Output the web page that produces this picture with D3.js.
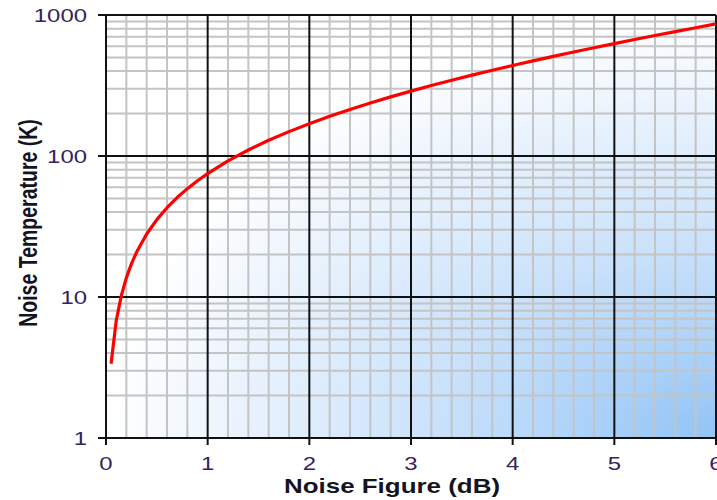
<!DOCTYPE html>
<html>
<head>
<meta charset="utf-8">
<script src="https://cdn.jsdelivr.net/npm/d3@7"></script>
<style>
  html, body { margin: 0; padding: 0; background: #ffffff; }
  svg { display: block; }
</style>
</head>
<body>
<svg id="chart" width="717" height="500"></svg>
<script>
// ---- data ----
const noiseFigure = [0.05, 0.1, 0.15, 0.2, 0.25, 0.3, 0.4, 0.5, 0.6, 0.7, 0.8, 0.9, 1.0,
  1.2, 1.4, 1.6, 1.8, 2.0, 2.2, 2.4, 2.6, 2.8, 3.0, 3.2, 3.4, 3.6, 3.8, 4.0,
  4.2, 4.4, 4.6, 4.8, 5.0, 5.2, 5.4, 5.6, 5.8, 6.0];
const noiseTemp = [3.36, 6.75, 10.19, 13.67, 17.18, 20.74, 27.98, 35.39, 42.96, 50.72, 58.66, 66.78, 75.09,
  92.3, 110.3, 129.2, 148.9, 169.6, 191.3, 214.0, 237.7, 262.6, 288.6, 315.9, 344.5, 374.4, 405.7, 438.5,
  472.8, 508.7, 546.4, 585.8, 627.1, 670.3, 715.5, 762.9, 812.6, 864.5];
const xTickLabels = ["0", "1", "2", "3", "4", "5", "6"];
const yTickLabels = ["1", "10", "100", "1000"];
const xTitle = "Noise Figure (dB)";
const yTitle = "Noise Temperature (K)";

// ---- layout ----
const L = 106, R = 716, T = 15, B = 438;
const stretch = 1.33;
const svg = d3.select("#chart");

const x = d3.scaleLinear().domain([0, 6]).range([L, R]);
const y = d3.scaleLog().domain([1, 1000]).range([B, T]);

// background gradient
const defs = svg.append("defs");
const grad = defs.append("radialGradient").attr("id", "bg")
  .attr("cx", 1).attr("cy", 1).attr("r", 1).attr("fx", 1).attr("fy", 1);
grad.append("stop").attr("offset", 0).attr("stop-color", "#92c4f6");
grad.append("stop").attr("offset", 0.45).attr("stop-color", "#c9e1fb");
grad.append("stop").attr("offset", 1).attr("stop-color", "#ffffff");

svg.append("rect").attr("x", L).attr("y", T).attr("width", R - L).attr("height", B - T)
  .attr("fill", "url(#bg)");

// minor grid
const xMinor = d3.range(0, 30).map(i => i * 0.2).filter(v => Math.abs(v - Math.round(v)) > 1e-6);
const yMinor = [];
[1, 10, 100].forEach(d => { for (let k = 2; k <= 9; k++) yMinor.push(d * k); });
const xMajor = xTickLabels.map(Number);
const yMajor = yTickLabels.map(Number);

const grid = svg.append("g");
grid.selectAll(".xm").data(xMinor).enter().append("line")
  .attr("x1", d => x(d)).attr("x2", d => x(d)).attr("y1", T).attr("y2", B)
  .attr("stroke", "#c4c4c4").attr("stroke-width", 2);
grid.selectAll(".ym").data(yMinor).enter().append("line")
  .attr("x1", L).attr("x2", R).attr("y1", d => y(d)).attr("y2", d => y(d))
  .attr("stroke", "#c4c4c4").attr("stroke-width", 2);

// major grid
grid.selectAll(".xM").data(xMajor).enter().append("line")
  .attr("x1", d => x(d)).attr("x2", d => x(d)).attr("y1", T).attr("y2", B + 7)
  .attr("stroke", "#111").attr("stroke-width", 2);
grid.selectAll(".yM").data(yMajor).enter().append("line")
  .attr("x1", L - 8).attr("x2", R).attr("y1", d => y(d)).attr("y2", d => y(d))
  .attr("stroke", "#111").attr("stroke-width", 2);

// curve
const line = d3.line().x((d, i) => x(noiseFigure[i])).y(d => y(d));
svg.append("path").datum(noiseTemp).attr("d", line)
  .attr("fill", "none").attr("stroke", "#ff0000").attr("stroke-width", 3.2)
  .attr("stroke-linejoin", "round");

// tick labels
const labColor = "#33245e";
svg.selectAll(".xl").data(xTickLabels).enter().append("text")
  .attr("transform", d => `translate(${x(+d)},470) scale(${stretch},1)`)
  .attr("text-anchor", "middle")
  .attr("font-family", "Liberation Sans, Arial, sans-serif").attr("font-size", 18)
  .attr("fill", labColor).text(d => d);
svg.selectAll(".yl").data(yTickLabels).enter().append("text")
  .attr("transform", d => `translate(87,${y(+d) + 6.5}) scale(${stretch},1)`)
  .attr("text-anchor", "end")
  .attr("font-family", "Liberation Sans, Arial, sans-serif").attr("font-size", 18)
  .attr("fill", labColor).text(d => d);

// titles
svg.append("text")
  .attr("transform", `translate(392,493) scale(${stretch},1)`)
  .attr("text-anchor", "middle")
  .attr("font-family", "Liberation Sans, Arial, sans-serif").attr("font-size", 19.5)
  .attr("font-weight", "bold").attr("fill", "#14141e").text(xTitle);
svg.append("text")
  .attr("transform", `translate(37,223) scale(${stretch},1) rotate(-90)`)
  .attr("text-anchor", "middle")
  .attr("font-family", "Liberation Sans, Arial, sans-serif").attr("font-size", 19.5)
  .attr("font-weight", "bold").attr("fill", "#14141e").text(yTitle);
</script>
</body>
</html>
